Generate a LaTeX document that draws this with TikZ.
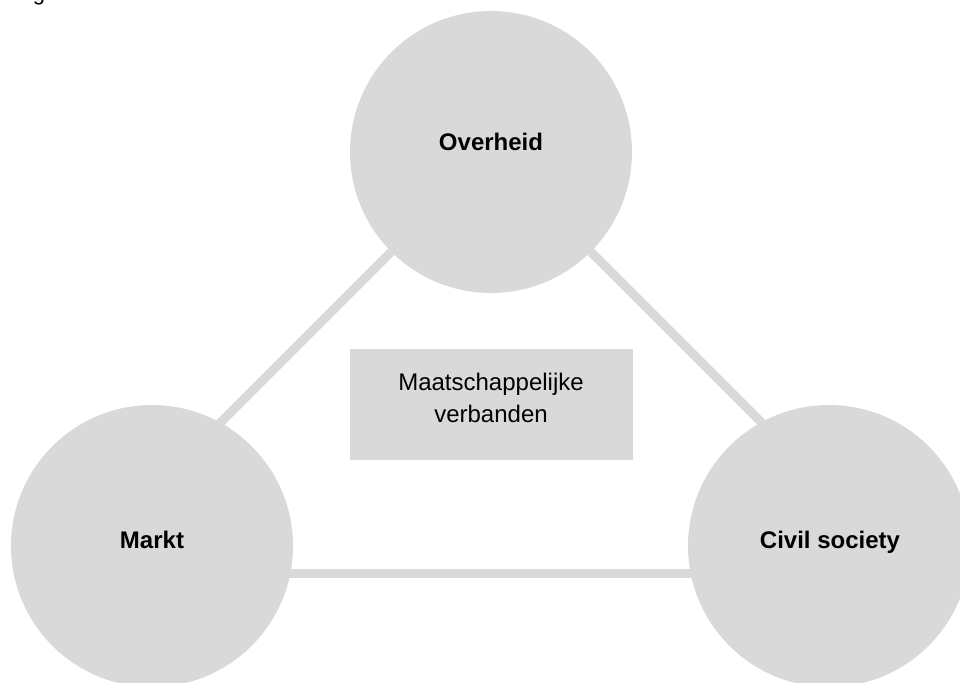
\documentclass[tikz,border=0pt]{standalone}
\usepackage{fontspec}
\setmainfont{Liberation Sans}
\usetikzlibrary{backgrounds}
\definecolor{sectorgrey}{HTML}{D9D9D9}
\tikzset{
  sector/.style={circle, fill=sectorgrey, minimum size=282pt, inner sep=0pt},
  sectorlabel/.style={anchor=base, font=\fontsize{24}{28}\selectfont\bfseries},
  midbox/.style={rectangle, fill=sectorgrey, minimum width=283pt, minimum height=111pt, inner sep=0pt},
  midlabel/.style={align=center, font=\fontsize{24}{32}\selectfont},
  link/.style={draw=sectorgrey, line width=9pt},
}
\begin{document}
\begin{tikzpicture}[x=1pt, y=-1pt]
  \useasboundingbox (0,0) rectangle (960,682);

  % caption line cut off at the top edge
  \node[anchor=base, font=\fontsize{22}{26}\selectfont, inner sep=0pt] (capg) at (39,0.5) {g};

  % the three sectors
  \node[sector] (ov) at (491,152) {};
  \node[sector] (ma) at (152,546) {};
  \node[sector] (cs) at (829,546) {};

  \node[sectorlabel] (ovt) at (491,150) {Overheid};
  \node[sectorlabel] (mat) at (152,548) {Markt};
  \node[sectorlabel] (cst) at (830,548) {Civil society};

  % ends of the connecting bars, hidden under the circles
  \coordinate (maTop) at (200,443);
  \coordinate (csTop) at (785,446);
  \coordinate (maLow) at (152,573.5);
  \coordinate (csLow) at (829,573.5);

  \begin{scope}[on background layer]
    \draw[link] (ov.center) -- (maTop);
    \draw[link] (ov.center) -- (csTop);
    \draw[link] (maLow) -- (csLow);
  \end{scope}

  % middle field
  \node[midbox] (mv) at (491.5,404.5) {};
  \node[midlabel] (mvt) at (491,398) {Maatschappelijke\\verbanden};
\end{tikzpicture}
\end{document}
